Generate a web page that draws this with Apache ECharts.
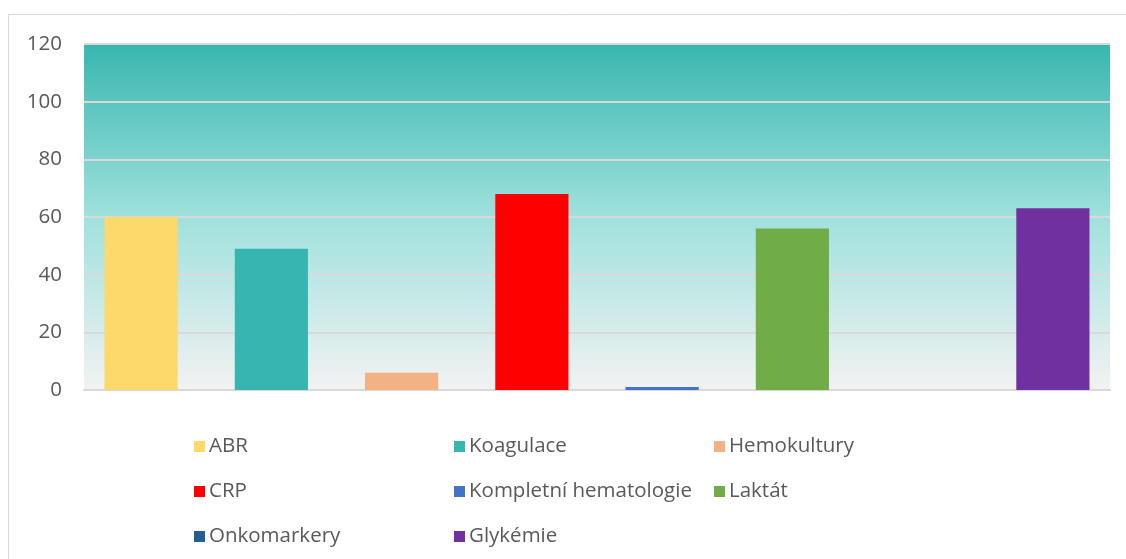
<!DOCTYPE html>
<html><head><meta charset="utf-8">
<script src="https://cdn.jsdelivr.net/npm/echarts@6/dist/echarts.min.js"></script>
<style>html,body{margin:0;padding:0;background:#fff}#c{width:1126px;height:559px}</style>
</head><body><div id="c"></div>
<script>
const categories = [''];
const seriesNames = ['ABR','Koagulace','Hemokultury','CRP','Kompletní hematologie','Laktát','Onkomarkery','Glykémie'];
const seriesValues = [60, 49, 6, 68, 1, 56, 0, 63];
const seriesColors = ['#FDD86A','#37B6B1','#F4B183','#FF0000','#4472C4','#70AD47','#255E91','#7030A0'];
const yTicks = [0, 20, 40, 60, 80, 100, 120];
const legendCols = [['ABR','CRP','Onkomarkery'],['Koagulace','Kompletní hematologie','Glykémie'],['Hemokultury','Laktát']];

const font = '"Open Sans", "Noto Sans", sans-serif';
const chart = echarts.init(document.getElementById('c'), null, {renderer:'canvas'});
const legendX = [194, 454, 714];
chart.setOption({
  animation:false,
  backgroundColor:'#fff',
  graphic:[{type:'rect',shape:{x:8.5,y:14.5,width:1130,height:560},style:{fill:'none',stroke:'#D9D9D9',lineWidth:1},silent:true,z:-1}],
  grid:{left:84,right:16,top:44,bottom:169,show:true,borderWidth:0,
    backgroundColor:new echarts.graphic.LinearGradient(0,0,0,1,[
      {offset:0,color:'#38B7AF'},{offset:0.5,color:'#A0E1DD'},{offset:1,color:'#F2F2F2'}])},
  xAxis:{type:'category',data:categories,axisTick:{show:false},axisLabel:{show:false},
    axisLine:{show:true,lineStyle:{color:'#D9D9D9',width:2}}},
  yAxis:{type:'value',min:yTicks[0],max:yTicks[yTicks.length-1],interval:20,
    axisLine:{show:false},axisTick:{show:false},
    axisLabel:{color:'#595959',fontSize:20.5,fontFamily:font,margin:22},
    splitLine:{lineStyle:{color:'#D9D9D9',width:2}}},
  legend:legendCols.map((col,i)=>({
    orient:'vertical',left:legendX[i],top:436,padding:0,itemWidth:11,itemHeight:11,itemGap:24,
    icon:'rect',data:col,textStyle:{color:'#595959',fontSize:20.5,fontFamily:font,padding:[0,0,0,-1]}
  })),
  series:seriesNames.map((n,i)=>({
    name:n,type:'bar',data:[seriesValues[i]],barGap:'78%',barCategoryGap:'4%',
    itemStyle:{color:seriesColors[i]}
  }))
});
</script></body></html>
